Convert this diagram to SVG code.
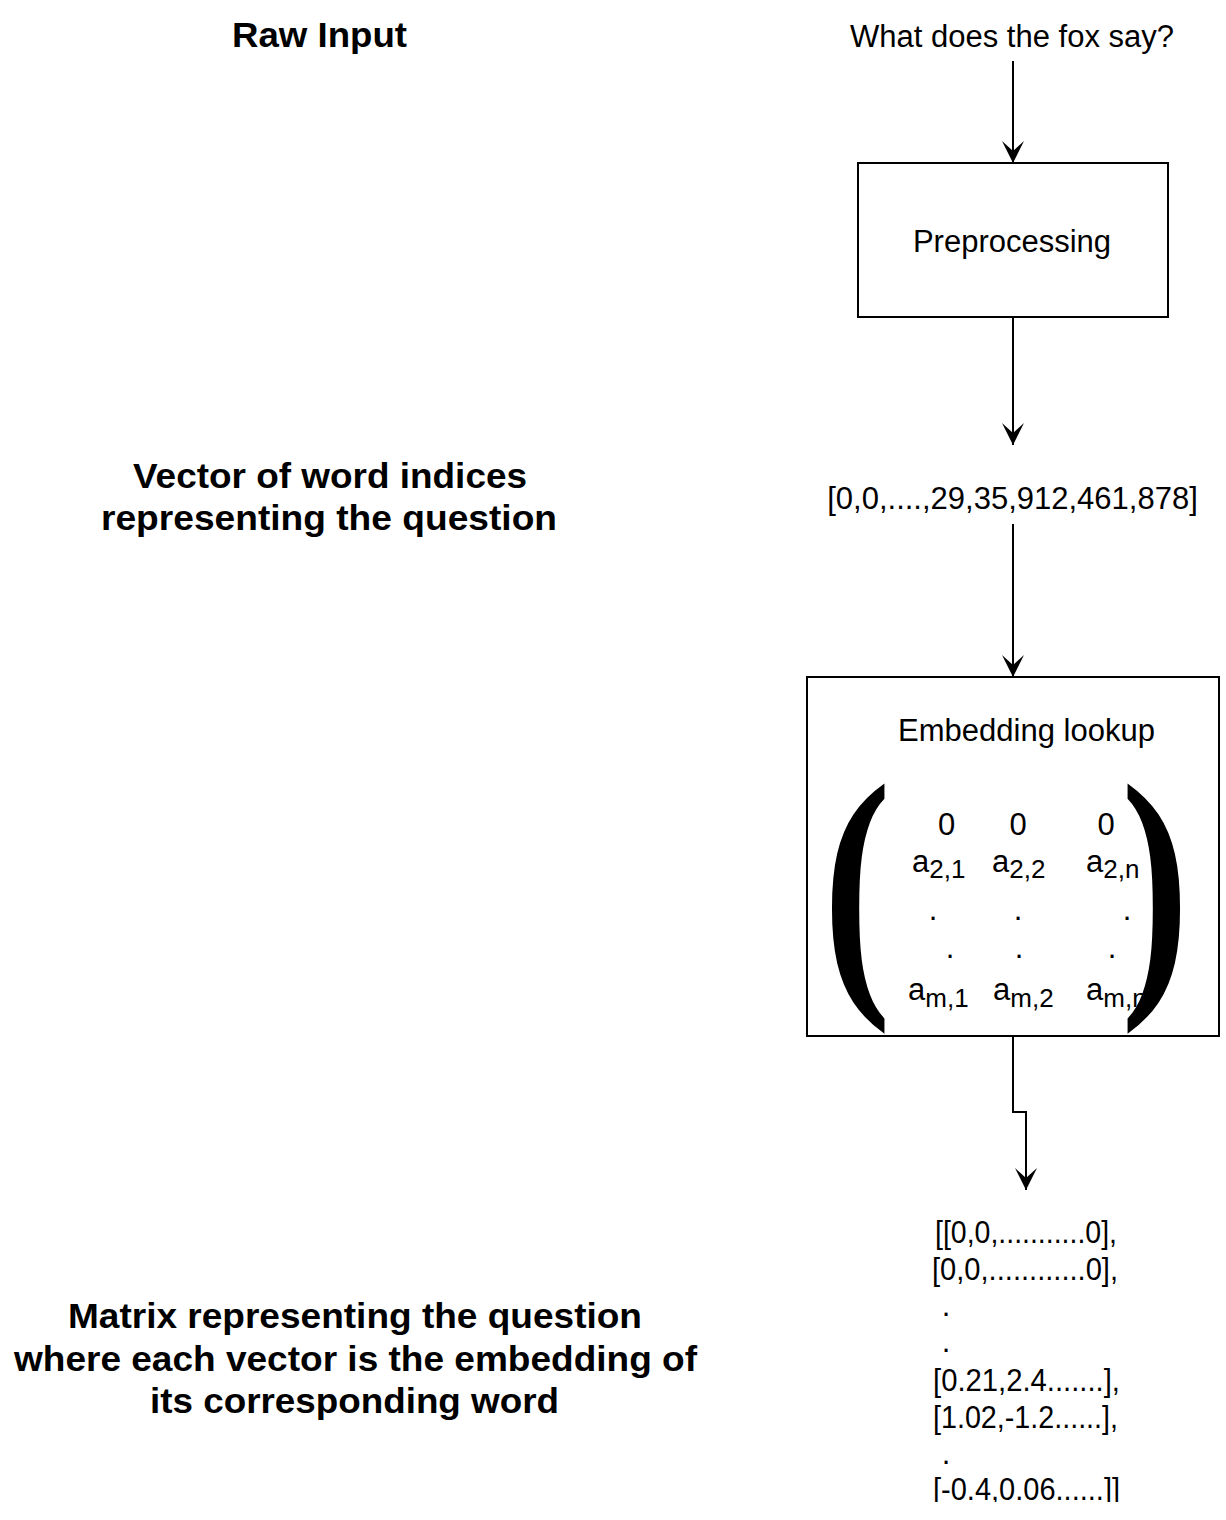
<svg xmlns="http://www.w3.org/2000/svg" width="1226" height="1520" viewBox="0 0 1226 1520">
  <style>
    .lbl { font-family: "Liberation Sans", Arial, sans-serif; font-weight: bold; font-size: 35px; fill: #000; text-anchor: middle; }
    .t { font-family: "Liberation Sans", Arial, sans-serif; font-size: 31px; fill: #000; }
    .c { text-anchor: middle; }
    .sub { font-size: 26px; }
    .par { font-family: "Liberation Serif", "Times New Roman", serif; font-weight: bold; font-size: 276px; fill: #000; }
    .box { fill: #fff; stroke: #000; stroke-width: 2; }
    .edge { fill: none; stroke: #000; stroke-width: 2; }
  </style>
  <defs>
    <marker id="arrow" markerUnits="userSpaceOnUse" markerWidth="24" markerHeight="24" viewBox="-23 -12 24 24" refX="0" refY="0" orient="auto">
      <path d="M0,0 L-22,-11 L-12,0 L-22,11 Z" fill="#000"/>
    </marker>
    <clipPath id="bottomClip">
      <rect x="0" y="0" width="1226" height="1502"/>
    </clipPath>
  </defs>
  <rect width="1226" height="1520" fill="#fff"/>

  <g id="label-raw-input">
    <text class="lbl" x="319.5" y="47" textLength="175" lengthAdjust="spacingAndGlyphs">Raw Input</text>
  </g>
  <g id="label-vector">
    <text class="lbl" x="330" y="488" textLength="394" lengthAdjust="spacingAndGlyphs">Vector of word indices</text>
    <text class="lbl" x="329" y="530" textLength="456" lengthAdjust="spacingAndGlyphs">representing the question</text>
  </g>
  <g id="label-matrix">
    <text class="lbl" x="355" y="1328" textLength="574" lengthAdjust="spacingAndGlyphs">Matrix representing the question</text>
    <text class="lbl" x="355.5" y="1371" textLength="683" lengthAdjust="spacingAndGlyphs">where each vector is the embedding of</text>
    <text class="lbl" x="354.5" y="1413" textLength="409" lengthAdjust="spacingAndGlyphs">its corresponding word</text>
  </g>

  <g id="connectors">
    <path class="edge" d="M1013,61 V163" marker-end="url(#arrow)"/>
    <path class="edge" d="M1013,318 V445" marker-end="url(#arrow)"/>
    <path class="edge" d="M1013,524 V677" marker-end="url(#arrow)"/>
    <path class="edge" d="M1013,1036 V1112 H1026 V1190" marker-end="url(#arrow)"/>
  </g>

  <g id="input-question">
    <text class="t c" x="1012" y="47">What does the fox say?</text>
  </g>

  <g id="preprocessing">
    <rect class="box" x="858" y="163" width="310" height="154"/>
    <text class="t c" x="1012" y="252">Preprocessing</text>
  </g>

  <g id="index-vector">
    <text class="t c" x="1012.5" y="509">[0,0,....,29,35,912,461,878]</text>
  </g>

  <g id="embedding-lookup">
    <rect class="box" x="807" y="677" width="412" height="359"/>
    <text class="t c" x="1026.5" y="741">Embedding lookup</text>
    <text class="t c" x="946.7" y="835">0</text>
    <text class="t c" x="1018" y="835">0</text>
    <text class="t c" x="1106" y="835">0</text>
    <text class="t" x="912" y="872">a<tspan class="sub" dy="6">2,1</tspan></text>
    <text class="t" x="992" y="872">a<tspan class="sub" dy="6">2,2</tspan></text>
    <text class="t" x="1086" y="872">a<tspan class="sub" dy="6">2,n</tspan></text>
    <text class="t c" x="933" y="920">.</text>
    <text class="t c" x="1018" y="920">.</text>
    <text class="t c" x="1127" y="920">.</text>
    <text class="t c" x="950" y="958">.</text>
    <text class="t c" x="1019" y="958">.</text>
    <text class="t c" x="1112" y="958">.</text>
    <text class="t" x="908" y="1000">a<tspan class="sub" dy="7">m,1</tspan></text>
    <text class="t" x="993" y="1000">a<tspan class="sub" dy="7">m,2</tspan></text>
    <text class="t" x="1086" y="1000">a<tspan class="sub" dy="7">m,n</tspan></text>
    <text class="par" transform="translate(823,975) scale(0.74,1)">(</text>
    <text class="par" transform="translate(1121,975) scale(0.74,1)">)</text>
  </g>

  <g id="embedded-matrix" clip-path="url(#bottomClip)">
    <text class="t" x="935" y="1243" textLength="182" lengthAdjust="spacingAndGlyphs">[[0,0,...........0],</text>
    <text class="t" x="932" y="1280" textLength="186" lengthAdjust="spacingAndGlyphs">[0,0,............0],</text>
    <text class="t c" x="946" y="1316">.</text>
    <text class="t c" x="946" y="1352">.</text>
    <text class="t" x="933" y="1391" textLength="187" lengthAdjust="spacingAndGlyphs">[0.21,2.4.......],</text>
    <text class="t" x="933" y="1428" textLength="185" lengthAdjust="spacingAndGlyphs">[1.02,-1.2......],</text>
    <text class="t c" x="946" y="1464">.</text>
    <text class="t" x="933" y="1500" textLength="187" lengthAdjust="spacingAndGlyphs">[-0.4,0.06......]]</text>
  </g>
</svg>
